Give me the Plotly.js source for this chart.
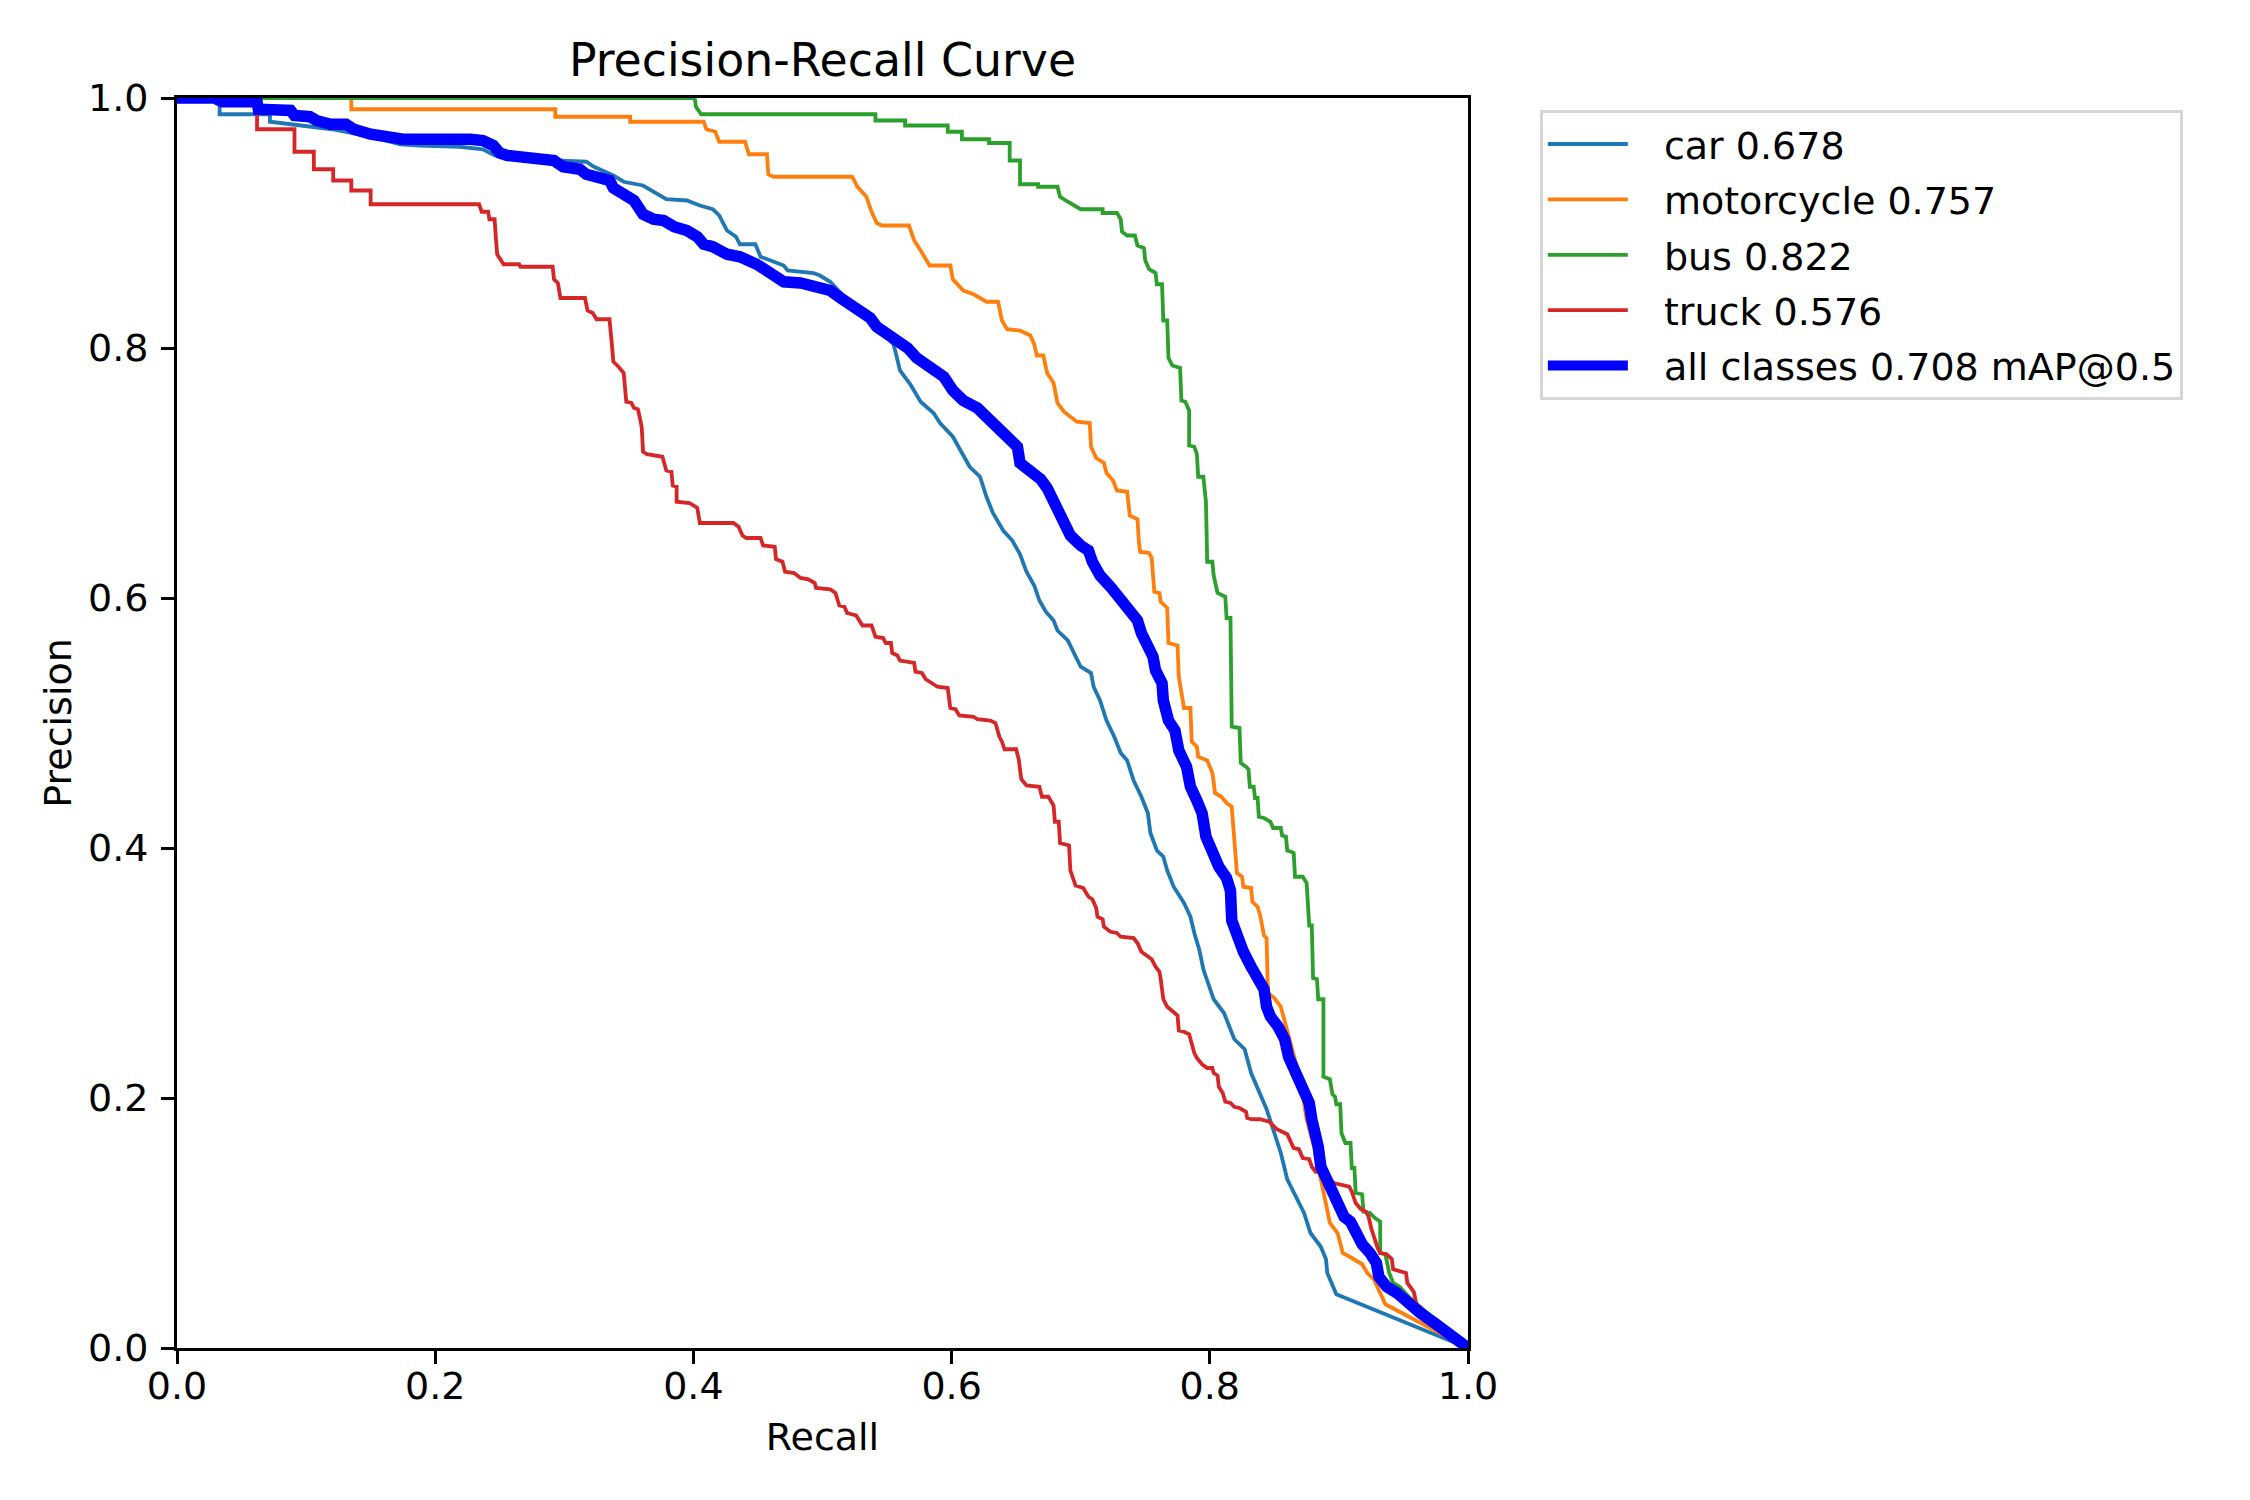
<!DOCTYPE html>
<html>
<head>
<meta charset="utf-8">
<script src="https://cdn.plot.ly/plotly-3.0.1.min.js"></script>
<style>html,body{margin:0;padding:0;background:#fff;}#chart{width:2250px;height:1500px;}</style>
</head>
<body>
<div id="chart"></div>
<script>
// ---- data ----
const seriesNames = ["car 0.678", "motorcycle 0.757", "bus 0.822", "truck 0.576", "all classes 0.708 mAP@0.5"];
const tickValues = [0, 0.2, 0.4, 0.6, 0.8, 1.0];
const tickLabels = ["0.0", "0.2", "0.4", "0.6", "0.8", "1.0"];

const carRecall = [0,0.033,0.033,0.072,0.072,0.09,0.12,0.15,0.173,0.188,0.219,0.237,0.246,0.27,0.292,0.317,0.323,0.338,0.346,0.361,0.366,0.379,0.395,0.405,0.415,0.420,0.426,0.433,0.436,0.448,0.452,0.462,0.470,0.473,0.493,0.498,0.506,0.515,0.530,0.547,0.555,0.557,0.560,0.568,0.576,0.586,0.591,0.601,0.607,0.614,0.622,0.627,0.632,0.640,0.647,0.653,0.658,0.664,0.668,0.673,0.679,0.682,0.690,0.695,0.700,0.708,0.710,0.715,0.720,0.726,0.731,0.736,0.741,0.747,0.752,0.754,0.759,0.764,0.767,0.772,0.780,0.785,0.788,0.792,0.795,0.803,0.811,0.819,0.827,0.832,0.839,0.844,0.850,0.855,0.860,0.865,0.873,0.878,0.886,0.890,0.891,0.898,1.0];
const carPrecision = [1.0,1.0,0.987,0.987,0.981,0.979,0.975,0.969,0.963,0.962,0.961,0.959,0.954,0.952,0.950,0.949,0.945,0.938,0.933,0.930,0.927,0.919,0.918,0.914,0.911,0.906,0.894,0.889,0.883,0.883,0.873,0.869,0.866,0.862,0.860,0.858,0.853,0.843,0.829,0.811,0.803,0.795,0.782,0.771,0.757,0.748,0.740,0.729,0.718,0.705,0.697,0.681,0.668,0.654,0.646,0.635,0.621,0.610,0.598,0.589,0.582,0.574,0.566,0.556,0.545,0.540,0.529,0.518,0.502,0.489,0.476,0.470,0.454,0.441,0.428,0.412,0.398,0.393,0.382,0.369,0.356,0.345,0.332,0.318,0.303,0.279,0.268,0.247,0.239,0.220,0.204,0.191,0.172,0.156,0.135,0.124,0.108,0.092,0.081,0.071,0.060,0.043,0.0];

const motoRecall = [0,0.135,0.135,0.293,0.293,0.351,0.351,0.408,0.410,0.417,0.420,0.440,0.443,0.457,0.458,0.462,0.523,0.527,0.534,0.538,0.542,0.546,0.567,0.571,0.576,0.583,0.599,0.601,0.609,0.617,0.627,0.636,0.639,0.643,0.653,0.661,0.664,0.666,0.671,0.674,0.679,0.682,0.687,0.697,0.707,0.708,0.712,0.718,0.720,0.725,0.728,0.736,0.738,0.744,0.745,0.746,0.753,0.755,0.757,0.761,0.762,0.767,0.768,0.775,0.776,0.778,0.780,0.785,0.786,0.790,0.791,0.798,0.802,0.803,0.804,0.809,0.813,0.817,0.819,0.821,0.825,0.826,0.832,0.833,0.837,0.839,0.842,0.844,0.845,0.850,0.855,0.857,0.860,0.865,0.870,0.875,0.881,0.886,0.889,0.893,0.899,0.903,0.910,0.918,0.922,0.927,0.932,0.936,1.0];
const motoPrecision = [1.0,1.0,0.991,0.991,0.985,0.985,0.981,0.981,0.975,0.973,0.965,0.965,0.955,0.955,0.939,0.937,0.937,0.929,0.921,0.909,0.900,0.898,0.898,0.886,0.878,0.866,0.866,0.855,0.846,0.843,0.837,0.837,0.822,0.815,0.814,0.810,0.803,0.794,0.794,0.780,0.772,0.756,0.749,0.741,0.740,0.721,0.712,0.708,0.700,0.694,0.686,0.685,0.666,0.663,0.646,0.637,0.636,0.632,0.605,0.604,0.597,0.592,0.564,0.562,0.537,0.526,0.512,0.512,0.485,0.481,0.473,0.470,0.460,0.453,0.444,0.441,0.436,0.433,0.405,0.380,0.377,0.369,0.368,0.357,0.353,0.346,0.330,0.328,0.284,0.280,0.273,0.265,0.252,0.235,0.215,0.183,0.160,0.135,0.119,0.100,0.092,0.076,0.072,0.067,0.060,0.055,0.044,0.035,0.0];

const busRecall = [0,0.401,0.402,0.406,0.541,0.541,0.564,0.564,0.597,0.597,0.608,0.608,0.629,0.629,0.645,0.645,0.653,0.653,0.667,0.667,0.682,0.684,0.690,0.697,0.700,0.717,0.717,0.728,0.731,0.732,0.736,0.742,0.744,0.749,0.750,0.753,0.758,0.759,0.763,0.764,0.767,0.768,0.771,0.777,0.778,0.781,0.784,0.784,0.788,0.790,0.791,0.795,0.797,0.798,0.802,0.803,0.806,0.812,0.813,0.816,0.817,0.823,0.824,0.828,0.830,0.831,0.834,0.835,0.837,0.838,0.842,0.847,0.849,0.855,0.856,0.859,0.860,0.863,0.865,0.866,0.872,0.875,0.877,0.879,0.880,0.883,0.884,0.888,0.888,0.893,0.895,0.897,0.898,0.901,0.902,0.905,0.909,0.910,0.912,0.913,0.918,0.919,0.924,0.928,0.932,0.932,0.936,0.939,0.942,0.947,0.955,1.0];
const busPrecision = [1.0,1.0,0.993,0.987,0.987,0.982,0.982,0.978,0.978,0.973,0.973,0.967,0.967,0.964,0.964,0.950,0.950,0.931,0.931,0.929,0.929,0.921,0.917,0.913,0.911,0.911,0.908,0.908,0.903,0.893,0.890,0.890,0.882,0.880,0.870,0.863,0.860,0.851,0.851,0.822,0.822,0.792,0.786,0.784,0.758,0.757,0.750,0.722,0.721,0.715,0.697,0.697,0.677,0.629,0.629,0.618,0.604,0.601,0.584,0.584,0.497,0.496,0.468,0.465,0.463,0.449,0.449,0.440,0.440,0.425,0.424,0.421,0.416,0.416,0.410,0.409,0.398,0.397,0.396,0.377,0.377,0.372,0.338,0.338,0.296,0.295,0.279,0.279,0.217,0.215,0.203,0.201,0.195,0.195,0.172,0.164,0.164,0.144,0.144,0.124,0.123,0.109,0.108,0.104,0.101,0.076,0.075,0.060,0.052,0.049,0.040,0.0];

const truckRecall = [0,0.062,0.062,0.091,0.091,0.106,0.106,0.121,0.121,0.135,0.135,0.150,0.150,0.234,0.236,0.241,0.242,0.246,0.247,0.248,0.253,0.265,0.266,0.291,0.292,0.295,0.297,0.316,0.318,0.322,0.325,0.335,0.337,0.338,0.342,0.346,0.348,0.352,0.354,0.357,0.359,0.360,0.361,0.364,0.376,0.377,0.379,0.383,0.384,0.387,0.387,0.397,0.403,0.405,0.431,0.435,0.438,0.441,0.452,0.454,0.463,0.464,0.469,0.471,0.478,0.483,0.489,0.494,0.495,0.506,0.510,0.513,0.517,0.519,0.526,0.531,0.538,0.541,0.547,0.549,0.553,0.554,0.558,0.560,0.571,0.572,0.577,0.580,0.585,0.589,0.597,0.599,0.603,0.606,0.617,0.620,0.630,0.634,0.637,0.639,0.641,0.650,0.652,0.654,0.658,0.668,0.670,0.675,0.679,0.680,0.683,0.684,0.691,0.692,0.695,0.696,0.702,0.706,0.709,0.712,0.713,0.717,0.718,0.723,0.728,0.731,0.741,0.744,0.747,0.752,0.755,0.758,0.761,0.762,0.764,0.767,0.771,0.775,0.776,0.780,0.784,0.785,0.788,0.790,0.794,0.798,0.802,0.803,0.806,0.807,0.810,0.812,0.816,0.819,0.823,0.828,0.829,0.833,0.839,0.846,0.852,0.860,0.862,0.865,0.869,0.872,0.877,0.879,0.882,0.886,0.888,0.893,0.896,0.901,0.908,0.910,0.913,0.917,0.921,0.923,0.925,0.930,0.932,0.937,0.941,0.942,0.948,0.952,0.953,0.958,0.960,1.0];
const truckPrecision = [1.0,1.0,0.975,0.975,0.957,0.957,0.943,0.943,0.934,0.934,0.926,0.926,0.915,0.915,0.909,0.909,0.903,0.903,0.888,0.875,0.867,0.867,0.865,0.865,0.855,0.852,0.840,0.840,0.830,0.828,0.823,0.823,0.801,0.789,0.785,0.780,0.757,0.756,0.752,0.751,0.742,0.736,0.717,0.715,0.713,0.709,0.702,0.701,0.690,0.689,0.677,0.676,0.672,0.660,0.660,0.657,0.650,0.648,0.648,0.642,0.641,0.631,0.629,0.621,0.620,0.616,0.615,0.612,0.608,0.607,0.604,0.594,0.593,0.588,0.586,0.578,0.578,0.569,0.568,0.564,0.564,0.556,0.554,0.550,0.548,0.541,0.540,0.535,0.532,0.529,0.528,0.512,0.511,0.506,0.505,0.503,0.502,0.500,0.489,0.485,0.479,0.479,0.471,0.455,0.450,0.449,0.441,0.441,0.434,0.421,0.421,0.404,0.402,0.382,0.373,0.370,0.368,0.361,0.359,0.352,0.345,0.343,0.337,0.333,0.332,0.329,0.328,0.324,0.317,0.313,0.311,0.305,0.301,0.295,0.279,0.273,0.269,0.266,0.254,0.253,0.251,0.247,0.236,0.232,0.227,0.224,0.224,0.220,0.218,0.209,0.204,0.197,0.196,0.193,0.192,0.189,0.184,0.183,0.183,0.181,0.175,0.171,0.167,0.160,0.159,0.152,0.151,0.145,0.141,0.141,0.137,0.135,0.132,0.131,0.129,0.125,0.116,0.111,0.109,0.105,0.096,0.080,0.076,0.075,0.071,0.063,0.061,0.060,0.052,0.045,0.035,0.0];

const allRecall = [0,0.029,0.035,0.062,0.063,0.088,0.091,0.103,0.108,0.119,0.131,0.137,0.150,0.170,0.175,0.227,0.237,0.245,0.250,0.256,0.286,0.292,0.299,0.312,0.317,0.328,0.335,0.338,0.346,0.354,0.361,0.369,0.377,0.385,0.395,0.403,0.408,0.415,0.426,0.436,0.449,0.459,0.470,0.483,0.496,0.506,0.514,0.524,0.532,0.537,0.542,0.550,0.558,0.566,0.573,0.583,0.594,0.601,0.609,0.620,0.627,0.635,0.643,0.651,0.653,0.661,0.669,0.674,0.679,0.684,0.692,0.700,0.706,0.709,0.715,0.723,0.731,0.739,0.744,0.747,0.752,0.756,0.758,0.763,0.764,0.768,0.773,0.776,0.782,0.785,0.790,0.794,0.797,0.802,0.807,0.813,0.816,0.817,0.821,0.826,0.832,0.837,0.842,0.844,0.847,0.853,0.858,0.861,0.865,0.870,0.874,0.877,0.879,0.882,0.884,0.886,0.890,0.895,0.900,0.904,0.909,0.913,0.918,0.924,0.929,0.931,0.937,0.945,0.953,0.963,0.974,0.984,0.997,1.0];
const allPrecision = [1.0,1.0,0.997,0.997,0.991,0.990,0.986,0.985,0.982,0.979,0.979,0.975,0.971,0.969,0.967,0.967,0.966,0.962,0.956,0.954,0.952,0.950,0.945,0.943,0.939,0.936,0.934,0.928,0.923,0.918,0.907,0.903,0.902,0.897,0.894,0.889,0.883,0.881,0.875,0.873,0.867,0.860,0.853,0.852,0.849,0.846,0.840,0.834,0.828,0.824,0.817,0.812,0.806,0.800,0.792,0.785,0.777,0.766,0.758,0.752,0.745,0.734,0.726,0.721,0.708,0.702,0.695,0.688,0.677,0.665,0.650,0.642,0.638,0.629,0.618,0.609,0.598,0.590,0.582,0.572,0.561,0.553,0.542,0.532,0.518,0.502,0.494,0.478,0.465,0.449,0.438,0.428,0.409,0.396,0.385,0.376,0.366,0.342,0.329,0.317,0.305,0.294,0.287,0.273,0.265,0.257,0.247,0.233,0.225,0.214,0.204,0.196,0.183,0.172,0.161,0.145,0.135,0.124,0.116,0.105,0.101,0.092,0.083,0.076,0.068,0.057,0.049,0.044,0.036,0.028,0.020,0.012,0.004,0.0];

// ---- figure ----
const FONT = "DejaVu Sans, Liberation Sans, sans-serif";
const recallSets = [carRecall, motoRecall, busRecall, truckRecall, allRecall];
const precisionSets = [carPrecision, motoPrecision, busPrecision, truckPrecision, allPrecision];
const colors = ["#1f77b4", "#ff7f0e", "#2ca02c", "#d62728", "#0000ff"];
const widths = [3.8, 3.8, 3.8, 3.8, 11.5];
const LEGEND_PAD = "\u2002\u00a0";

const traces = seriesNames.map((name, i) => ({
  type: "scatter",
  mode: "lines",
  name: LEGEND_PAD + name,
  x: recallSets[i],
  y: precisionSets[i],
  line: { color: colors[i], width: widths[i], shape: "linear" },
  legendgroup: "g" + i,
  hoverinfo: "skip"
}));

const axisCommon = {
  range: [0, 1],
  tickmode: "array",
  tickvals: tickValues,
  ticktext: tickLabels,
  ticks: "outside",
  ticklen: 13,
  tickwidth: 3,
  tickcolor: "#000",
  showline: true,
  linecolor: "#000",
  linewidth: 3,
  mirror: true,
  showgrid: false,
  zeroline: false,
  fixedrange: true,
  tickfont: { family: FONT, size: 38, color: "#000" }
};

const layout = {
  width: 2250,
  height: 1500,
  paper_bgcolor: "#fff",
  plot_bgcolor: "#fff",
  margin: { l: 177, r: 782, t: 98, b: 152, pad: 0 },
  font: { family: FONT, color: "#000" },
  title: {
    text: "Precision-Recall Curve",
    font: { family: FONT, size: 45.8, color: "#000" },
    x: 0.5, xref: "paper", xanchor: "center",
    y: 1 - 60 / 1500, yref: "container", yanchor: "middle"
  },
  xaxis: Object.assign({}, axisCommon, {
    ticklabelstandoff: -11,
    title: { text: "Recall", font: { family: FONT, size: 38, color: "#000" }, standoff: 17 }
  }),
  yaxis: Object.assign({}, axisCommon, {
    ticklabelstandoff: 5,
    title: { text: "Precision", font: { family: FONT, size: 38, color: "#000" }, standoff: 5 }
  }),
  showlegend: true,
  legend: {
    x: 1.0558, y: 0.9904, xanchor: "left", yanchor: "top",
    xref: "paper", yref: "paper",
    bgcolor: "rgba(255,255,255,0.8)",
    bordercolor: "#d6d6d6",
    borderwidth: 2.8,
    font: { family: FONT, size: 38, color: "#000" },
    itemwidth: 80,
    tracegroupgap: 3,
    traceorder: "grouped"
  }
};

Plotly.newPlot("chart", traces, layout, { staticPlot: true, displayModeBar: false });
</script>
</body>
</html>
